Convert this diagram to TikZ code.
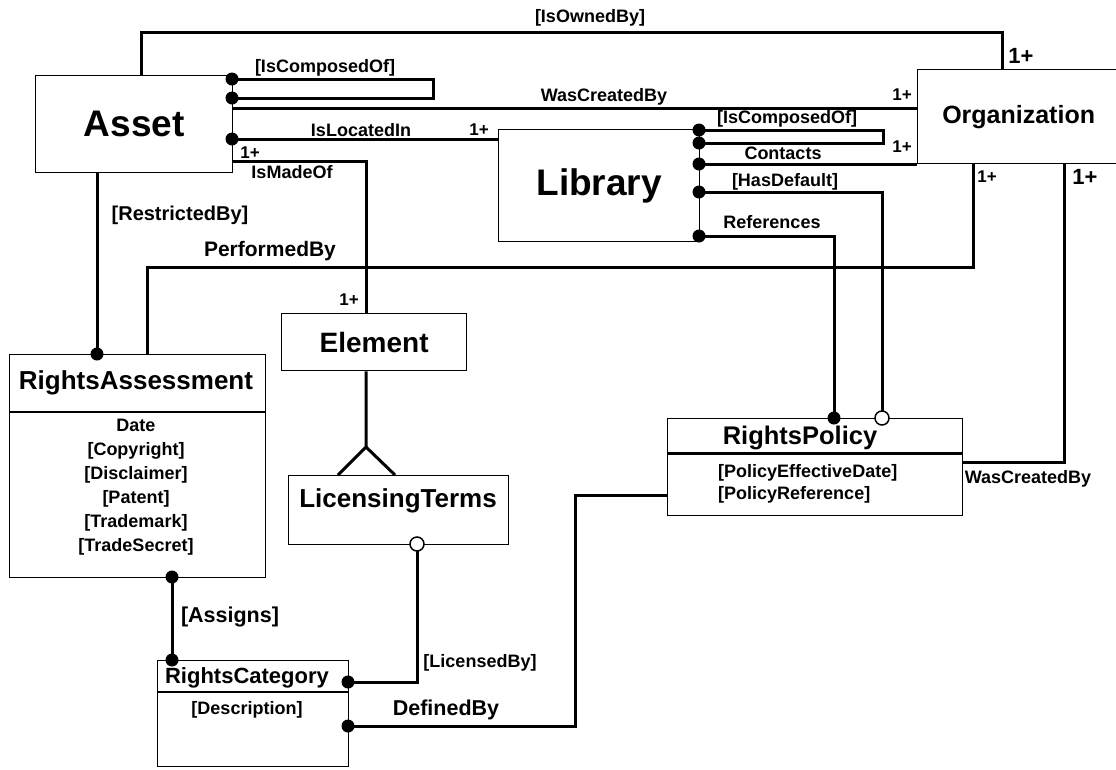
\documentclass[tikz,border=0pt]{standalone}
\usepackage{fontspec}
\setmainfont{Liberation Sans}
\usepackage{tikz}
\newcommand\fsz[1]{\fontsize{#1}{#1}\selectfont\bfseries}
\tikzset{
  box/.style={draw, line width=1.3pt, anchor=north west, inner sep=0pt},
  rel/.style={line width=3pt},
  lbl/.style={inner sep=0pt, font=\fsz{18}},
  big/.style={inner sep=0pt, font=\fsz{22}},
}

\begin{document}
\begin{tikzpicture}[x=1pt,y=1pt,yscale=-1,xscale=1]
\useasboundingbox (0,0) rectangle (1116,769);

%Shape: Rectangle [asset]
\node[box, minimum width=197, minimum height=97, font=\fsz{37}] (asset) at (35,75) {Asset};
%Shape: Rectangle [organization]
\node[box, minimum width=202, minimum height=94, font=\fsz{25}] (org) at (917,69) {Organization};
%Shape: Rectangle [library]
\node[box, minimum width=201, minimum height=112, font=\fsz{37}] (library) at (498,129) {Library};
%Shape: Rectangle [element]
\node[box, minimum width=185, minimum height=57, font=\fsz{28}] (element) at (281,313) {Element};
%Shape: Rectangle [licensing terms]
\node[box, minimum width=220, minimum height=69] (licterms) at (288,475) {};
%Shape: Rectangle [rights assessment]
\node[box, minimum width=256, minimum height=223] (rassess) at (9,354) {};
\draw[line width=1.3pt] (rassess.west |- 0,412) -- (rassess.east |- 0,412);
%Shape: Rectangle [rights policy]
\node[box, minimum width=295, minimum height=97] (rpolicy) at (667,418) {};
\draw[line width=3pt] (rpolicy.west |- 0,453) -- (rpolicy.east |- 0,453);
%Shape: Rectangle [rights category]
\node[box, minimum width=191, minimum height=106] (rcat) at (157,660) {};
\draw[line width=2pt] (rcat.west |- 0,692) -- (rcat.east |- 0,692);

% Text Node
\node[inner sep=0pt, font=\fsz{26}] (licterms-t) at (398,501) {LicensingTerms};
\node[inner sep=0pt, font=\fsz{26}] (rassess-t) at (136,383) {RightsAssessment};
\node[inner sep=0pt, font=\fsz{25.5}] (rpolicy-t) at (800,438) {RightsPolicy};
\node[inner sep=0pt, font=\fsz{22}] (rcat-t) at (247,678) {RightsCategory};
\node[inner sep=0pt, font=\bfseries\fontsize{18}{24}\selectfont, align=center] (rassess-a) at (136,487)
  {Date\\{}[Copyright]\\{}[Disclaimer]\\{}[Patent]\\{}[Trademark]\\{}[TradeSecret]};
\node[inner sep=0pt, font=\bfseries\fontsize{18}{22}\selectfont, align=left, anchor=west] (rpolicy-a) at (718,484)
  {[PolicyEffectiveDate]\\{}[PolicyReference]};
\node[inner sep=0pt, font=\fsz{18}] (rcat-a) at (247,710) {[Description]};

%Straight Lines [IsOwnedBy]
\draw[rel] (asset.north -| 141,0) -- (141,32) -| (org.north -| 1002,0);
%Straight Lines [IsComposedOf]
\draw[rel] (asset.east |- 0,79) -| (433,98) -- (asset.east |- 0,98);
%Straight Lines [WasCreatedBy]
\draw[rel] (asset.east |- 0,108) -- (org.west |- 0,108);
%Straight Lines [IsLocatedIn]
\draw[rel] (asset.east |- 0,139) -- (library.west |- 0,139);
%Straight Lines [IsMadeOf]
\draw[rel] (asset.east |- 0,161) -| (element.north -| 366,0);
%Straight Lines [IsComposedOf]
\draw[rel] (library.east |- 0,130) -| (883,143) -- (library.east |- 0,143);
%Straight Lines [Contacts]
\draw[rel] (library.east |- org.south west) -- (org.south west);
%Straight Lines [HasDefault]
\draw[rel] (library.east |- 0,192) -| (rpolicy.north -| 882,0);
%Straight Lines [References]
\draw[rel] (library.east |- 0,236) -| (rpolicy.north -| 834,0);
%Straight Lines [PerformedBy]
\draw[rel] (org.south -| 973,0) |- (147,267) -- (rassess.north -| 147,0);
%Straight Lines [WasCreatedBy]
\draw[rel] (org.south -| 1064,0) |- (rpolicy.east |- 0,462);
%Straight Lines [RestrictedBy]
\draw[rel] (asset.south -| 97,0) -- (rassess.north -| 97,0);
%Straight Lines [crow foot]
\draw[rel] (element.south -| 366,0) -- (366,447) -- (licterms.north -| 338,0);
\draw[rel] (366,447) -- (licterms.north -| 395,0);
%Straight Lines [Assigns]
\draw[rel] (rassess.south -| 172,0) -- (rcat.north -| 172,0);
%Straight Lines [LicensedBy]
\draw[rel] (licterms.south -| 417,0) |- (rcat.east |- 0,682);
%Straight Lines [DefinedBy]
\draw[rel] (rcat.east |- 0,726) -| (575,495) -- (rpolicy.west |- 0,495);

%Shape: Circle [dots]
\foreach \p in {(232,79),(232,98),(232,139),(699,130),(699,143),(699,164),(699,192),(699,236),
                (834,418),(97,354),(172,577),(172,660),(348,682),(348,726)}
  \fill \p circle (6.5pt);
\foreach \p in {(882,418),(417,544)}
  \draw[line width=1.5pt, fill=white] \p circle (7pt);

% Text Node
\node[lbl] (l-owned) at (590,18) {[IsOwnedBy]};
\node[lbl] (l-acomp) at (325,68) {[IsComposedOf]};
\node[lbl] (l-wcb) at (604,97) {WasCreatedBy};
\node[lbl] (l-loc) at (361,130) {IsLocatedIn};
\node[lbl] (l-made) at (292,172) {IsMadeOf};
\node[lbl] (l-lcomp) at (787,119) {[IsComposedOf]};
\node[lbl] (l-cont) at (783,153) {Contacts};
\node[lbl] (l-def) at (785,182) {[HasDefault]};
\node[lbl] (l-ref) at (772,222) {References};
\node[inner sep=0pt, font=\fsz{20}] (l-restr) at (180,215) {[RestrictedBy]};
\node[inner sep=0pt, font=\fsz{21}] (l-perf) at (270,251) {PerformedBy};
\node[inner sep=0pt, font=\fsz{21.5}] (l-assign) at (230,617) {[Assigns]};
\node[lbl] (l-lic) at (480,663) {[LicensedBy]};
\node[inner sep=0pt, font=\fsz{21.5}] (l-defby) at (446,710) {DefinedBy};
\node[lbl] (l-pwcb) at (1028,479) {WasCreatedBy};
% Text Node [1+]
\node[lbl, font=\fsz{17}] (m1) at (479,130) {1+};
\node[lbl, font=\fsz{17}] (m2) at (250,153) {1+};
\node[lbl, font=\fsz{17}] (m3) at (349,300) {1+};
\node[lbl, font=\fsz{17}] (m4) at (902,95) {1+};
\node[lbl, font=\fsz{17}] (m5) at (902,147) {1+};
\node[lbl, font=\fsz{17}] (m6) at (987,177) {1+};
\node[big] (m7) at (1021,56) {1+};
\node[big] (m8) at (1085,177) {1+};

\end{tikzpicture}
\end{document}
